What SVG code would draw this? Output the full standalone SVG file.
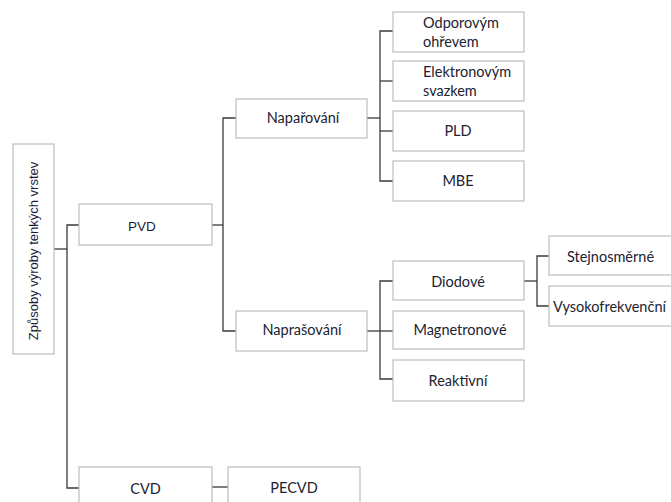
<svg xmlns="http://www.w3.org/2000/svg" width="671" height="502" viewBox="0 0 671 502">
<style>
.box{fill:#ffffff;stroke:#bdbdbd;stroke-width:1.2}
.c{fill:none;stroke:#3a3a3a;stroke-width:1.3}
.t{font-family:Lato,"Liberation Sans",sans-serif;font-size:14.5px;fill:#222230}
.a{font-family:"Liberation Sans",Arial,sans-serif;font-size:13.5px;fill:#1c1c3a}
.m{text-anchor:middle}
</style>
<rect width="671" height="502" fill="#ffffff"/>
<g id="connectors">
<polyline class="c" points="54,249 67,249"/>
<polyline class="c" points="79,225 67,225 67,488 79,488"/>
<polyline class="c" points="212,487 228,487"/>
<polyline class="c" points="212,225 223,225"/>
<polyline class="c" points="236,118 223,118 223,331 236,331"/>
<polyline class="c" points="367,118 380,118"/>
<polyline class="c" points="393,31 380,31 380,181 393,181"/>
<polyline class="c" points="380,81 393,81"/>
<polyline class="c" points="380,131 393,131"/>
<polyline class="c" points="367,331 393,331"/>
<polyline class="c" points="393,281 380,281 380,379 393,379"/>
<polyline class="c" points="524,281 537,281"/>
<polyline class="c" points="549,256 537,256 537,306 549,306"/>
</g>
<g id="root">
<rect class="box" x="13" y="144" width="41" height="210"/>
<text class="a m" style="font-size:13px" transform="translate(38,251) rotate(-90)">Způsoby výroby tenkých vrstev</text>
</g>
<g id="pvd">
<rect class="box" x="79" y="204" width="133" height="41"/>
<text class="a m" x="142" y="231">PVD</text>
</g>
<g id="cvd">
<rect class="box" x="79" y="467" width="133" height="45"/>
<text class="t m" x="145.5" y="494">CVD</text>
</g>
<g id="pecvd">
<rect class="box" x="228" y="467" width="132" height="45"/>
<text class="t m" x="294" y="493">PECVD</text>
</g>
<g id="naparovani">
<rect class="box" x="236" y="99" width="131" height="39"/>
<text class="t m" x="303" y="123">Napařování</text>
</g>
<g id="naprasovani">
<rect class="box" x="236" y="311" width="131" height="40"/>
<text class="t m" x="302" y="335">Naprašování</text>
</g>
<g id="odporovym">
<rect class="box" x="393" y="12" width="131" height="40"/>
<text class="t" x="423" y="28">Odporovým</text>
<text class="t" x="423" y="47">ohřevem</text>
</g>
<g id="elektronovym">
<rect class="box" x="393" y="61" width="131" height="40"/>
<text class="t" x="423" y="77">Elektronovým</text>
<text class="t" x="423" y="96">svazkem</text>
</g>
<g id="pld">
<rect class="box" x="393" y="111" width="131" height="40"/>
<text class="t m" x="458" y="136">PLD</text>
</g>
<g id="mbe">
<rect class="box" x="393" y="161" width="131" height="40"/>
<text class="t m" x="458" y="186">MBE</text>
</g>
<g id="diodove">
<rect class="box" x="393" y="261" width="131" height="39"/>
<text class="t m" x="458" y="287">Diodové</text>
</g>
<g id="magnetronove">
<rect class="box" x="393" y="311" width="131" height="38"/>
<text class="t m" x="460" y="335">Magnetronové</text>
</g>
<g id="reaktivni">
<rect class="box" x="393" y="360" width="131" height="41"/>
<text class="t m" x="458" y="386">Reaktivní</text>
</g>
<g id="stejnosmerne">
<rect class="box" x="549" y="236" width="130" height="39"/>
<text class="t" x="567" y="262">Stejnosměrné</text>
</g>
<g id="vysokofrekvencni">
<rect class="box" x="549" y="286" width="130" height="40"/>
<text class="t" x="553" y="312">Vysokofrekvenční</text>
</g>
</svg>
